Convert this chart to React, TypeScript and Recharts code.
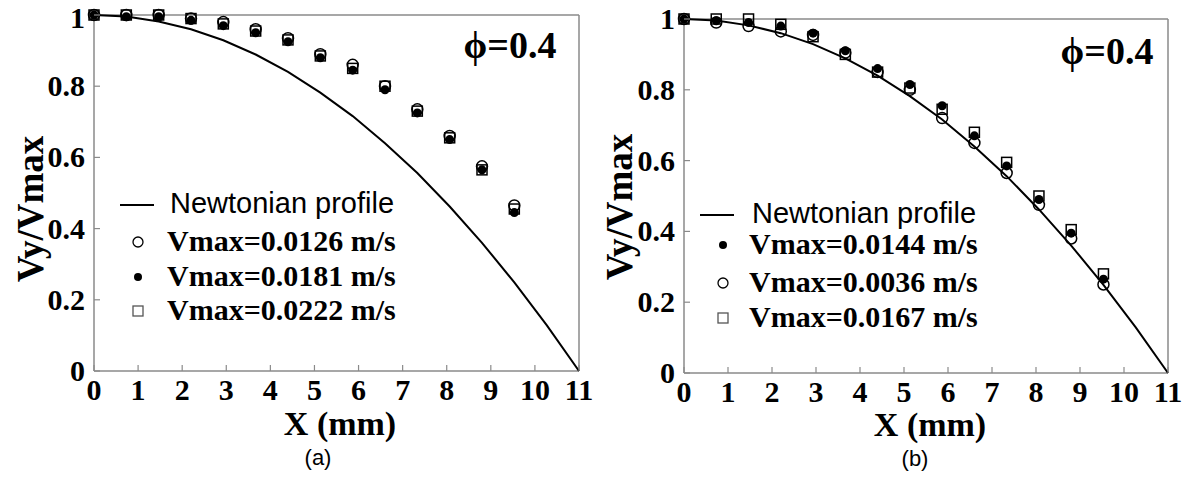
import React from "react";
import { ScatterChart, Scatter, XAxis, YAxis } from "recharts";

// x positions of the measured points (mm)
const xPos = [0, 0.733, 1.467, 2.2, 2.933, 3.667, 4.4, 5.133, 5.867, 6.6, 7.333, 8.067, 8.8, 9.533];

// Newtonian profile
const newtonX = [0, 0.733, 1.467, 2.2, 2.933, 3.667, 4.4, 5.133, 5.867, 6.6, 7.333, 8.067, 8.8, 9.533, 10.267, 11];
const newtonY = [1, 0.996, 0.982, 0.96, 0.929, 0.889, 0.84, 0.782, 0.716, 0.64, 0.556, 0.462, 0.36, 0.249, 0.129, 0];

// panel (a)
const a0126 = [1, 1, 1, 0.99, 0.98, 0.96, 0.935, 0.89, 0.86, 0.8, 0.735, 0.66, 0.575, 0.465];
const a0181 = [1, 0.995, 0.995, 0.985, 0.97, 0.95, 0.925, 0.88, 0.845, 0.79, 0.725, 0.65, 0.565, 0.445];
const a0222 = [1, 1, 1, 0.99, 0.975, 0.955, 0.93, 0.885, 0.85, 0.8, 0.73, 0.655, 0.565, 0.455];

// panel (b)
const b0144 = [1, 0.995, 0.99, 0.98, 0.96, 0.91, 0.86, 0.815, 0.755, 0.67, 0.585, 0.49, 0.395, 0.265];
const b0036 = [1, 0.99, 0.98, 0.965, 0.955, 0.905, 0.85, 0.8, 0.72, 0.65, 0.565, 0.475, 0.38, 0.25];
const b0167 = [1, 1, 1, 0.985, 0.95, 0.9, 0.85, 0.805, 0.745, 0.68, 0.595, 0.5, 0.405, 0.28];

const xTicks = [0, 1, 2, 3, 4, 5, 6, 7, 8, 9, 10, 11];
const yTicks = [0, 0.2, 0.4, 0.6, 0.8, 1];

const toPts = (xs: number[], ys: number[]) => ys.map((y, i) => ({ x: xs[i], y }));

const SERIF = "'Liberation Serif', 'Times New Roman', serif";
const SANS = "'Liberation Sans', Arial, sans-serif";
const FRAME = "#8a8a8a";

const OpenCircle = (p: any) => (
  <circle cx={p.cx} cy={p.cy} r={5.5} fill="none" stroke="#000" strokeWidth={1.5} />
);
const Dot = (p: any) => <circle cx={p.cx} cy={p.cy} r={4.5} fill="#000" />;
const Square = (p: any) => (
  <rect x={p.cx - 5} y={p.cy - 5} width={10} height={10} fill="none" stroke="#000" strokeWidth={1.5} />
);
const NoShape = () => <g />;

type Kind = "circle" | "dot" | "square";
const shapes: Record<Kind, any> = { circle: OpenCircle, dot: Dot, square: Square };

// tick renderers: inward tick mark + label
const BottomTick = (p: any) => (
  <g>
    <line x1={p.x} y1={p.y} x2={p.x} y2={p.y - 6} stroke={FRAME} strokeWidth={1.2} />
    <text
      x={p.x}
      y={p.y + 29}
      textAnchor="middle"
      fontFamily={SERIF}
      fontWeight="bold"
      fontSize={30}
      fill="#000"
    >
      {p.payload.value}
    </text>
  </g>
);
const TopTick = (p: any) => (
  <line x1={p.x} y1={p.y} x2={p.x} y2={p.y + 6} stroke={FRAME} strokeWidth={1.2} />
);
const LeftTick = (p: any) => (
  <g>
    <line x1={p.x} y1={p.y} x2={p.x + 6} y2={p.y} stroke={FRAME} strokeWidth={1.2} />
    <text
      x={p.x - 9}
      y={Math.max(p.y + 10, 28)}
      textAnchor="end"
      fontFamily={SERIF}
      fontWeight="bold"
      fontSize={30}
      fill="#000"
    >
      {p.payload.value}
    </text>
  </g>
);
const RightTick = (p: any) => (
  <line x1={p.x} y1={p.y} x2={p.x - 6} y2={p.y} stroke={FRAME} strokeWidth={1.2} />
);

const Marker = ({ kind }: { kind: Kind }) => (
  <svg width={14} height={14} style={{ display: "block" }}>
    {kind === "circle" && <circle cx={7} cy={7} r={5} fill="none" stroke="#000" strokeWidth={1.3} />}
    {kind === "dot" && <circle cx={7} cy={7} r={4} fill="#000" />}
    {kind === "square" && <rect x={2} y={2} width={10} height={10} fill="none" stroke="#555" strokeWidth={1.3} />}
  </svg>
);

type Series = { name: string; kind: Kind; values: number[] };

type PanelProps = {
  left: number;
  width: number;
  margin: { top: number; right: number; bottom: number; left: number };
  series: Series[];
  legend: { lineX: number; textX: number; markerX: number; newtonY: number; rows: number[] };
  yLabel: { x: number; y: number };
  xLabel: { x: number; y: number };
  tag: { text: string; x: number; y: number };
  phi: { x: number; y: number };
};

const Panel = (p: PanelProps) => {
  const drawOrder: Kind[] = ["square", "circle", "dot"];
  const ordered = drawOrder
    .map((k) => p.series.find((s) => s.kind === k))
    .filter(Boolean) as Series[];
  const axisLine = { stroke: FRAME, strokeWidth: 1.5 };
  return (
    <>
      <div style={{ position: "absolute", left: p.left, top: 0 }}>
        <ScatterChart width={p.width} height={481} margin={p.margin}>
          <XAxis
            xAxisId="b"
            dataKey="x"
            type="number"
            domain={[0, 11]}
            ticks={xTicks}
            height={1}
            tickSize={0}
            tickMargin={0}
            axisLine={axisLine}
            tickLine={false}
            tick={BottomTick}
            interval={0}
          />
          <XAxis
            xAxisId="t"
            orientation="top"
            dataKey="x"
            type="number"
            domain={[0, 11]}
            ticks={xTicks}
            height={1}
            tickSize={0}
            tickMargin={0}
            axisLine={axisLine}
            tickLine={false}
            tick={TopTick}
            interval={0}
          />
          <YAxis
            yAxisId="l"
            dataKey="y"
            type="number"
            domain={[0, 1]}
            ticks={yTicks}
            width={1}
            tickSize={0}
            tickMargin={0}
            axisLine={axisLine}
            tickLine={false}
            tick={LeftTick}
            interval={0}
          />
          <YAxis
            yAxisId="r"
            orientation="right"
            dataKey="y"
            type="number"
            domain={[0, 1]}
            ticks={yTicks}
            width={1}
            tickSize={0}
            tickMargin={0}
            axisLine={axisLine}
            tickLine={false}
            tick={RightTick}
            interval={0}
          />
          <Scatter
            xAxisId="b"
            yAxisId="l"
            name="Newtonian profile"
            data={toPts(newtonX, newtonY)}
            line={{ stroke: "#000", strokeWidth: 2 }}
            lineType="joint"
            shape={NoShape}
            isAnimationActive={false}
          />
          {ordered.map((s) => (
            <Scatter
              key={s.name}
              xAxisId="b"
              yAxisId="l"
              name={s.name}
              data={toPts(xPos, s.values)}
              shape={shapes[s.kind]}
              isAnimationActive={false}
            />
          ))}
        </ScatterChart>
      </div>

      {/* legend */}
      <div
        style={{
          position: "absolute",
          left: p.legend.lineX,
          top: p.legend.newtonY - 1,
          width: 34,
          height: 2,
          background: "#000",
        }}
      />
      <div
        style={{
          position: "absolute",
          left: p.legend.textX,
          top: p.legend.newtonY,
          transform: "translateY(-54%)",
          fontFamily: SANS,
          fontSize: 29,
          whiteSpace: "nowrap",
          color: "#000",
          lineHeight: 1,
        }}
      >
        Newtonian profile
      </div>
      {p.series.map((s, i) => (
        <React.Fragment key={s.name}>
          <div
            style={{
              position: "absolute",
              left: p.legend.markerX - 7,
              top: p.legend.rows[i] - 7,
            }}
          >
            <Marker kind={s.kind} />
          </div>
          <div
            style={{
              position: "absolute",
              left: p.legend.textX - 3,
              top: p.legend.rows[i],
              transform: "translateY(-55%)",
              fontFamily: SERIF,
              fontWeight: "bold",
              fontSize: 30,
              whiteSpace: "nowrap",
              lineHeight: 1,
              color: "#000",
            }}
          >
            {s.name}
          </div>
        </React.Fragment>
      ))}

      {/* axis titles */}
      <div
        style={{
          position: "absolute",
          left: p.yLabel.x,
          top: p.yLabel.y,
          transform: "translate(-50%, -50%) rotate(-90deg)",
          fontFamily: SERIF,
          fontWeight: "bold",
          fontSize: 37,
          whiteSpace: "nowrap",
          lineHeight: 1,
        }}
      >
        Vy/Vmax
      </div>
      <div
        style={{
          position: "absolute",
          left: p.xLabel.x,
          top: p.xLabel.y,
          transform: "translate(-50%, -50%)",
          fontFamily: SERIF,
          fontWeight: "bold",
          fontSize: 34,
          whiteSpace: "nowrap",
          lineHeight: 0.9,
        }}
      >
        X (mm)
      </div>
      <div
        style={{
          position: "absolute",
          left: p.tag.x,
          top: p.tag.y,
          transform: "translate(-50%, -50%)",
          fontFamily: SANS,
          fontSize: 22,
          whiteSpace: "nowrap",
          lineHeight: 1,
        }}
      >
        {p.tag.text}
      </div>
      <div
        style={{
          position: "absolute",
          left: p.phi.x,
          top: p.phi.y,
          transform: "translate(-50%, -50%)",
          fontFamily: SERIF,
          fontWeight: "bold",
          fontSize: 38,
          whiteSpace: "nowrap",
          lineHeight: 1,
        }}
      >
        ϕ=0.4
      </div>
    </>
  );
};

const App: React.FC = () => {
  return (
    <div
      style={{
        position: "fixed",
        left: 0,
        top: 0,
        width: 1187,
        height: 481,
        background: "#fff",
        overflow: "hidden",
      }}
    >
      <Panel
        left={0}
        width={600}
        margin={{ top: 14, right: 20, bottom: 109, left: 93 }}
        series={[
          { name: "Vmax=0.0126 m/s", kind: "circle", values: a0126 },
          { name: "Vmax=0.0181 m/s", kind: "dot", values: a0181 },
          { name: "Vmax=0.0222 m/s", kind: "square", values: a0222 },
        ]}
        legend={{ lineX: 120, textX: 170, markerX: 138, newtonY: 205, rows: [242, 277, 311] }}
        yLabel={{ x: 30, y: 209 }}
        xLabel={{ x: 340, y: 424 }}
        tag={{ text: "(a)", x: 318, y: 458 }}
        phi={{ x: 510, y: 45 }}
      />
      <Panel
        left={600}
        width={587}
        margin={{ top: 18, right: 18, bottom: 107, left: 83 }}
        series={[
          { name: "Vmax=0.0144 m/s", kind: "dot", values: b0144 },
          { name: "Vmax=0.0036 m/s", kind: "circle", values: b0036 },
          { name: "Vmax=0.0167 m/s", kind: "square", values: b0167 },
        ]}
        legend={{ lineX: 700, textX: 752, markerX: 723, newtonY: 215, rows: [245, 283, 318] }}
        yLabel={{ x: 619, y: 207 }}
        xLabel={{ x: 930, y: 425 }}
        tag={{ text: "(b)", x: 915, y: 459 }}
        phi={{ x: 1107, y: 51 }}
      />
    </div>
  );
};

export default App;
